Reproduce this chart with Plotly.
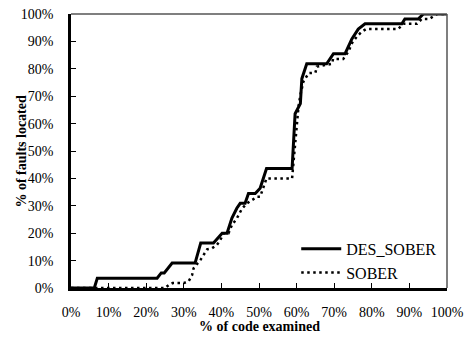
import plotly.graph_objects as go

# Cumulative share of faults located vs. share of code examined
des_x = [0, 6.2, 7.0, 22.9, 24.0, 24.8, 26.9, 33.0, 34.5, 37.9, 40.2, 41.5, 42.8, 44.1,
         45.0, 46.3, 47.2, 49.0, 50.3, 52.0, 58.8, 59.6, 61.0, 61.4, 62.7, 68.0, 69.8,
         72.9, 74.7, 76.4, 78.2, 88.0, 88.8, 92.4, 93.7, 100]
des_y = [0, 0, 3.6, 3.6, 5.5, 5.5, 9.1, 9.1, 16.4, 16.4, 20.0, 20.0, 25.5, 29.1,
         30.9, 30.9, 34.5, 34.5, 36.4, 43.6, 43.6, 63.6, 67.3, 76.4, 81.8, 81.8, 85.5,
         85.5, 90.9, 94.5, 96.4, 96.4, 98.2, 98.2, 100, 100]

sober_x = [0, 25.0, 26.0, 27.0, 30.0, 31.3, 32.2, 32.6, 34.4, 35.3, 36.2, 37.5, 38.8,
           39.7, 40.6, 41.9, 42.8, 44.1, 45.5, 46.8, 48.1, 49.5, 50.3, 51.2, 52.0, 58.8,
           60.1, 60.5, 61.0, 61.8, 63.2, 65.0, 65.4, 69.4, 69.7, 72.4, 73.8, 74.7, 76.0,
           77.3, 78.5, 87.0, 88.4, 92.0, 93.3, 95.3, 97.3, 100]
sober_y = [0, 0, 1.1, 1.8, 1.8, 2.5, 4.7, 7.2, 10.2, 12.0, 14.1, 14.5, 15.7,
           17.5, 20.0, 20.0, 23.0, 25.4, 29.0, 30.9, 32.0, 33.3, 33.3, 37.0, 40.0, 40.0,
           62.5, 66.2, 70.4, 75.3, 78.4, 78.6, 80.8, 81.8, 83.6, 83.6, 86.3, 89.3, 91.7,
           93.5, 94.5, 94.5, 96.4, 96.4, 98.2, 98.2, 100, 100]

tick_vals = list(range(0, 101, 10))
tick_text = [f"{v}%" for v in tick_vals]

serif = "Liberation Serif"

fig = go.Figure()
fig.add_trace(go.Scatter(x=des_x, y=des_y, mode="lines", name="DES_SOBER",
                         legendgroup="a", cliponaxis=False,
                         line=dict(color="black", width=3)))
fig.add_trace(go.Scatter(x=sober_x, y=sober_y, mode="lines", name="SOBER",
                         legendgroup="b", cliponaxis=False,
                         line=dict(color="black", width=2.5, dash="2.5px,3.5px")))

fig.update_layout(
    width=465, height=340,
    margin=dict(l=70.5, r=18, t=14, b=52),
    paper_bgcolor="white", plot_bgcolor="rgba(0,0,0,0)",
    font=dict(family=serif, size=14, color="black"),
    showlegend=True,
    legend=dict(x=0.599, y=0.205, xanchor="left", yanchor="top",
                bgcolor="rgba(0,0,0,0)", borderwidth=0,
                font=dict(family=serif, size=16, color="black"),
                itemwidth=40, tracegroupgap=0, traceorder="grouped"),
    shapes=[
        # grey frame along the top and right edges of the plot area
        dict(type="line", xref="x domain", yref="y domain", x0=0, y0=1, x1=1, y1=1,
             line=dict(color="#555555", width=1.5), layer="above"),
        dict(type="line", xref="x domain", yref="y domain", x0=1, y0=0, x1=1, y1=1,
             line=dict(color="#555555", width=1.5), layer="above"),
    ],
    annotations=[
        dict(text="<b>% of faults located</b>", xref="paper", yref="paper",
             x=-0.134, y=0.5, textangle=-90, showarrow=False,
             xanchor="center", yanchor="middle",
             font=dict(family=serif, size=14)),
        dict(text="<b>% of code examined</b>", xref="paper", yref="paper",
             x=0.5, y=-0.142, showarrow=False, xanchor="center", yanchor="middle",
             font=dict(family=serif, size=14)),
    ],
)
fig.update_xaxes(range=[0, 100], tickvals=tick_vals, ticktext=tick_text,
                 showgrid=False, zeroline=False, showline=True, linecolor="black",
                 linewidth=2.5, ticks="inside", ticklen=5, tickwidth=1.2,
                 tickcolor="black", tickfont=dict(family=serif, size=14),
                 ticklabelstandoff=9, automargin=False)
fig.update_yaxes(range=[0, 100], tickvals=tick_vals, ticktext=tick_text,
                 showgrid=False, zeroline=False, showline=True, linecolor="black",
                 linewidth=2.5, ticks="inside", ticklen=5, tickwidth=1.2,
                 tickcolor="black", tickfont=dict(family=serif, size=14),
                 ticklabelstandoff=12, automargin=False)

fig.write_html("out.html")
